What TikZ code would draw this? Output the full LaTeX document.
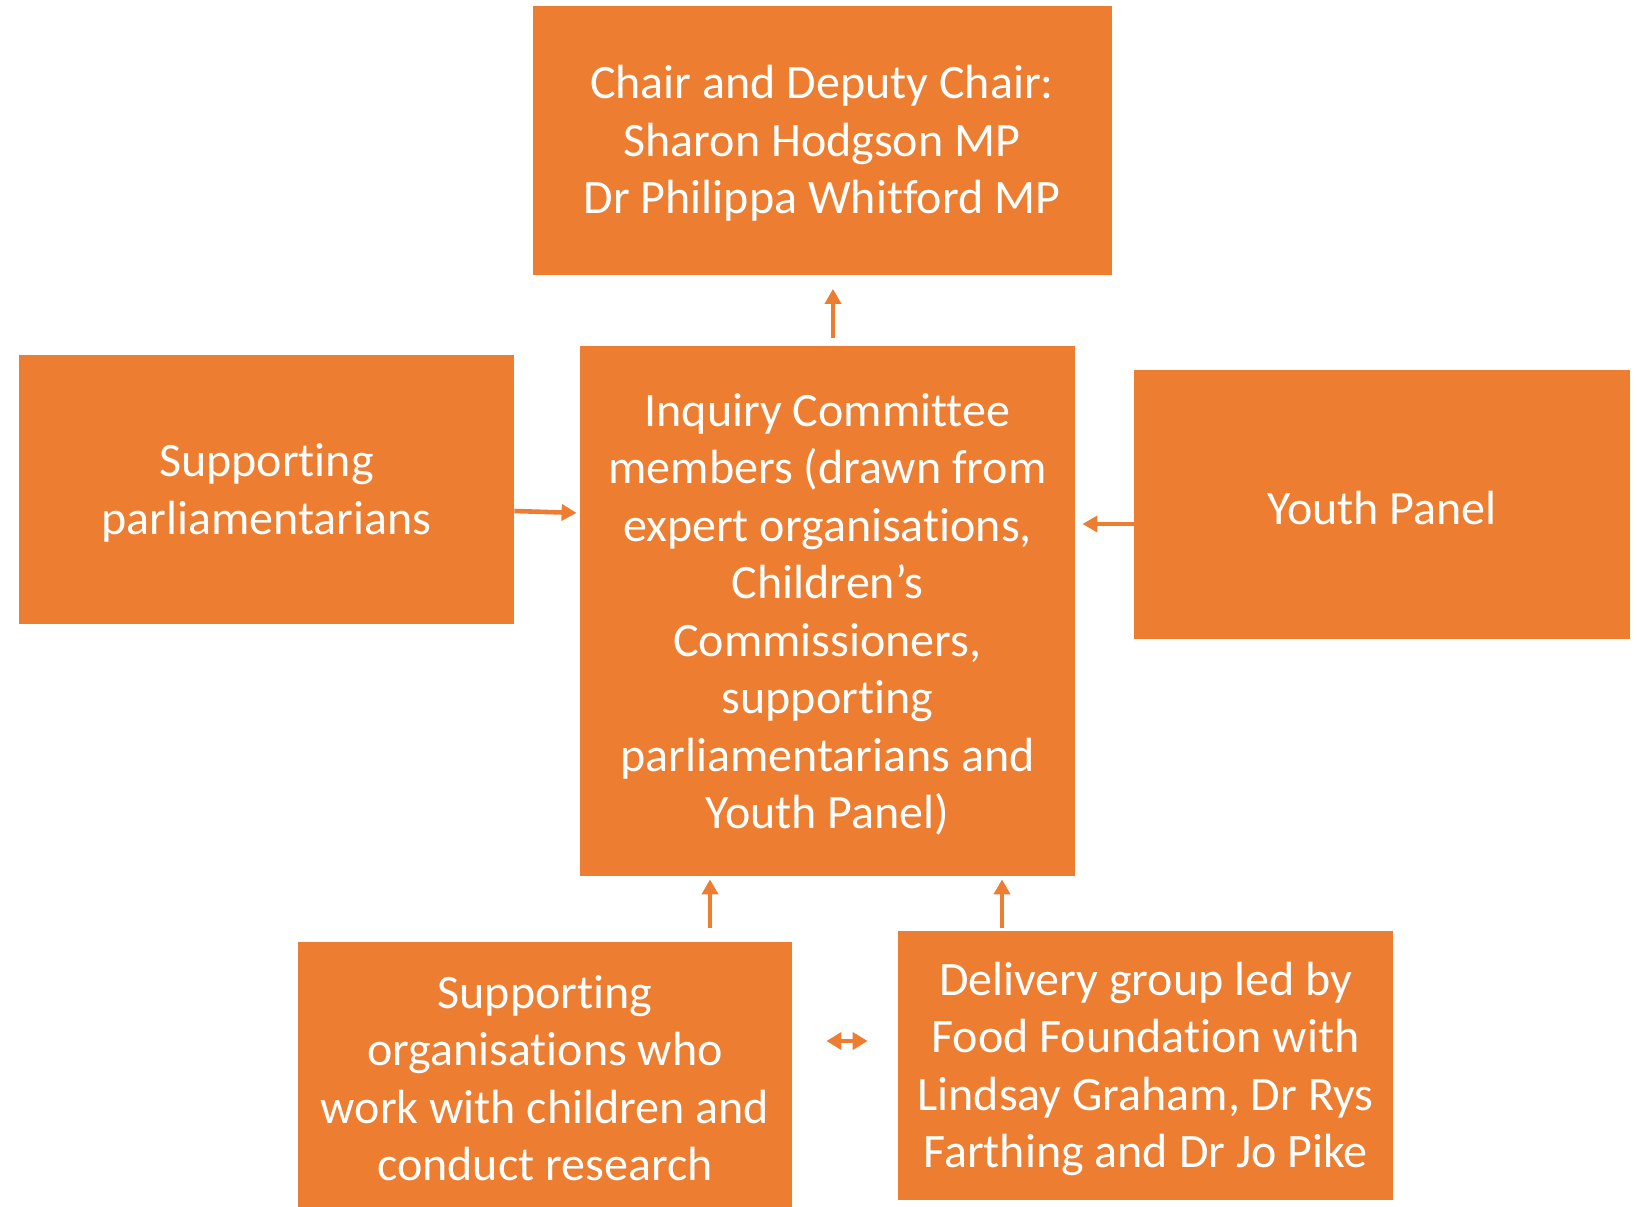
\documentclass[tikz,border=0pt]{standalone}
\usepackage{fontspec}
\setmainfont{Carlito}[Ligatures={NoCommon}]
\usetikzlibrary{arrows.meta}
\definecolor{orng}{HTML}{ED7D31}
\tikzset{
  box/.style={fill=orng, draw=none, text=white, align=center, inner sep=0pt,
    font=\fontsize{24pt}{28.75pt}\selectfont},
  arr/.style={draw=orng, line width=2.3pt, -{Triangle[width=8pt,length=7.5pt]}},
  darr/.style={draw=orng, line width=2.3pt, {Triangle[width=8.5pt,length=7.5pt]}-{Triangle[width=8.5pt,length=7.5pt]}}
}
\begin{document}
\begin{tikzpicture}[x=0.5pt,y=-0.5pt]
\useasboundingbox (0,0) rectangle (1637,1206);
\node[box, minimum width=289.5pt, minimum height=134.5pt] (chair) at (822,140)
  {\rule{0pt}{20pt}Chair and Deputy Chair:\\Sharon Hodgson MP\\Dr Philippa Whitford MP};
\node[box, minimum width=247.5pt, minimum height=134.5pt] (supp) at (266.5,489.5)
  {\rule{0pt}{20pt}Supporting\\parliamentarians};
\node[box, minimum width=247.5pt, minimum height=265pt] (inq) at (827.5,611)
  {\rule{0pt}{20pt}Inquiry Committee\\members (drawn from\\expert organisations,\\Children’s\\Commissioners,\\supporting\\parliamentarians and\\Youth Panel)};
\node[box, minimum width=248pt, minimum height=134.5pt] (youth) at (1382,504.5)
  {\rule{0pt}{20pt}Youth Panel};
\node[box, minimum width=247pt, minimum height=132.5pt] (orgs) at (545,1074.5)
  {\rule{0pt}{20pt}Supporting\\organisations who\\work with children and\\conduct research};
\node[box, minimum width=247.5pt, minimum height=134.5pt] (deliv) at (1145.5,1065.5)
  {\rule{0pt}{20pt}Delivery group led by\\Food Foundation with\\Lindsay Graham, Dr Rys\\Farthing and Dr Jo Pike};
\coordinate (xa) at (833,0);
\coordinate (xb) at (710,0);
\coordinate (xc) at (1002,0);
\coordinate (ya) at (0,511);
\coordinate (yb) at (0,513);
\coordinate (yc) at (0,524);
\coordinate (yd) at (0,1041);
\draw[arr, shorten <=4pt, shorten >=7pt] (inq.north -| xa) -- (chair.south -| xa);
\draw[arr, shorten >=1.5pt] (supp.east |- ya) -- (inq.west |- yb);
\draw[arr, shorten >=3.5pt] (youth.west |- yc) -- (inq.east |- yc);
\draw[arr, shorten <=7pt, shorten >=1.5pt] (orgs.north -| xb) -- (inq.south -| xb);
\draw[arr, shorten <=1.5pt, shorten >=1.5pt] (deliv.north -| xc) -- (inq.south -| xc);
\draw[darr, shorten <=17pt, shorten >=15pt] (orgs.east |- yd) -- (deliv.west |- yd);
\end{tikzpicture}
\end{document}
